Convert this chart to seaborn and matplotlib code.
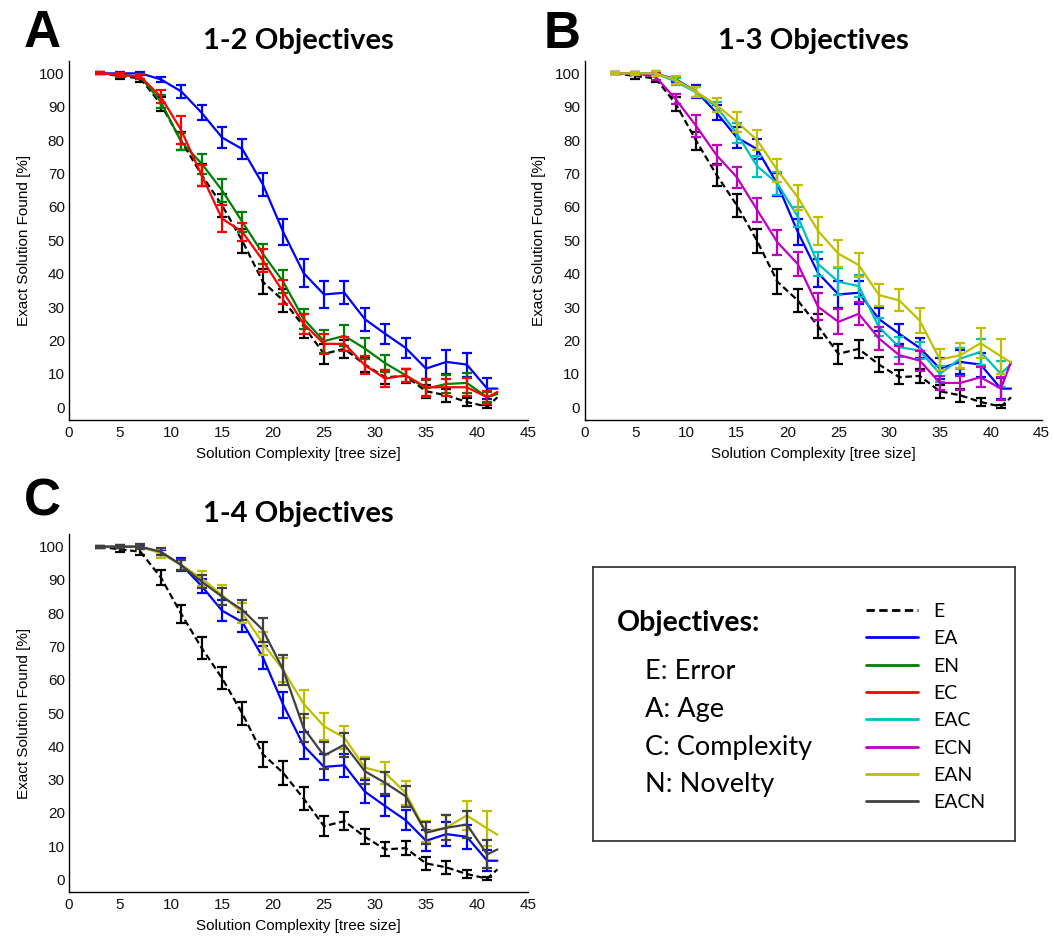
import numpy as np
import pandas as pd
import matplotlib
matplotlib.use("Agg")
import matplotlib.pyplot as plt
import seaborn as sns
from matplotlib.lines import Line2D

# ---------------- data ----------------
tree_size = [3, 5, 7, 9, 11, 13, 15, 17, 19, 21, 23, 25, 27, 29, 31, 33, 35, 37, 39, 41, 42]

E_mean = [100, 99.2, 98.5, 90.8, 79.8, 69.6, 60.5, 49.8, 37.6, 32, 24.3, 16, 17.5, 12.8, 9, 9.4, 4.8, 3.6, 1.6, 0.2, 3]
E_err = [0.3, 0.9, 1.1, 2.2, 2.7, 3.3, 3.4, 3.5, 3.7, 3.5, 3.5, 3, 2.8, 2.2, 2.1, 2.2, 2, 2, 1.1, 0.5]

EA_mean = [100, 100, 100, 98.2, 94.6, 88.2, 80.8, 77.3, 66.8, 52.5, 40.2, 33.8, 34.3, 26.4, 22, 17.8, 11.6, 13.6, 12.8, 5.6, 5.6]
EA_err = [0.3, 0.5, 0.5, 0.8, 2, 2.2, 3.2, 3, 3.5, 3.9, 4.1, 4, 3.5, 3.4, 3, 3.1, 3.2, 3.5, 3.6, 3.1]

EN_mean = [100, 99.6, 99, 91.5, 79.5, 73, 65, 55.5, 46, 37.6, 26.5, 19.8, 21.4, 17.6, 13.2, 9.6, 5.6, 7, 7.3, 3, 4]
EN_err = [0.3, 0.6, 0.8, 2, 2.5, 3, 3.5, 3, 3, 3.5, 3, 3.4, 3.1, 3.2, 2.5, 2, 2.5, 2.7, 3, 1.5]

EC_mean = [100, 99.5, 99, 93, 83, 69.5, 56.5, 52.5, 44, 34.5, 25, 19, 19, 12.6, 8.6, 9.6, 6, 6, 6, 3, 4.6]
EC_err = [0.3, 0.6, 0.8, 2, 4.1, 3.2, 4, 2.7, 3.5, 3.7, 3, 3, 2, 2.7, 2.5, 2, 2.5, 2.5, 2.7, 2]

EAC_mean = [100, 100, 100, 97.5, 94.3, 90, 82, 72.2, 67, 57.1, 42.9, 37.6, 36.3, 24, 18, 17, 10, 14.6, 16.6, 10, 13]
EAC_err = [0.3, 0.5, 0.8, 1, 1.5, 1.5, 3, 3.2, 3.5, 3, 3.5, 4, 3.2, 2.7, 3, 2.5, 2.5, 3.2, 3.9, 4]

ECN_mean = [100, 100, 99, 92.2, 84.2, 75.5, 68.9, 59.1, 49.4, 42.9, 30.1, 25.6, 28, 20.6, 15.6, 14, 7.3, 7.3, 9, 5.6, 13.6]
ECN_err = [0.3, 0.5, 1, 1.5, 3.2, 3, 3.2, 3.5, 3.7, 3.7, 4, 3.7, 3.4, 3.5, 2.7, 3, 2, 2, 3, 3.5]

EAN_mean = [100, 100, 100, 98, 94.5, 90.5, 85.5, 80, 71, 62.9, 52.8, 46, 42.6, 33.6, 32, 26, 14.3, 15.6, 19.2, 15.3, 13.4]
EAN_err = [0.3, 0.5, 0.8, 1.3, 1.5, 2.2, 3, 3, 3.5, 3.7, 4.2, 4.1, 3.5, 3.2, 3.3, 3.6, 3.2, 3.8, 4.4, 5.2]

EACN_mean = [100, 100, 100, 98.5, 94.5, 89.5, 85, 81, 75, 63, 45.5, 37.2, 40.5, 32.5, 29, 25, 14, 15.5, 16.5, 7.5, 9]
EACN_err = [0.3, 0.5, 0.8, 1, 1.5, 2, 2.5, 3, 3.5, 4.5, 4.2, 4, 3.6, 3.7, 3.3, 3.1, 3.3, 3.7, 4, 4.2]

series_names = ["E", "EA", "EN", "EC", "EAC", "ECN", "EAN", "EACN"]
panel_titles = ["1-2 Objectives", "1-3 Objectives", "1-4 Objectives"]
panel_letters = ["A", "B", "C"]
panel_series = [["E", "EA", "EN", "EC"],
                ["E", "EA", "EAC", "ECN", "EAN"],
                ["E", "EA", "EAN", "EACN"]]
x_ticks = [0, 5, 10, 15, 20, 25, 30, 35, 40, 45]
y_ticks = [0, 10, 20, 30, 40, 50, 60, 70, 80, 90, 100]
objective_lines = ["E: Error", "A: Age", "C: Complexity", "N: Novelty"]

means = {"E": E_mean, "EA": EA_mean, "EN": EN_mean, "EC": EC_mean,
         "EAC": EAC_mean, "ECN": ECN_mean, "EAN": EAN_mean, "EACN": EACN_mean}
errs = {"E": E_err, "EA": EA_err, "EN": EN_err, "EC": EC_err,
        "EAC": EAC_err, "ECN": ECN_err, "EAN": EAN_err, "EACN": EACN_err}

# ---------------- style ----------------
colors = {"E": "#000000", "EA": "#0000ff", "EN": "#008000", "EC": "#ff0000",
          "EAC": "#00bfbf", "ECN": "#bf00bf", "EAN": "#bfbf00", "EACN": "#404040"}
LW = 1.6
DASH = (0, (3, 1.6))

sns.set_style("white")
plt.rcParams['font.family'] = ['Liberation Sans', 'DejaVu Sans']
plt.rcParams['text.color'] = 'black'
plt.rcParams['axes.labelcolor'] = 'black'
plt.rcParams['xtick.color'] = 'black'
plt.rcParams['ytick.color'] = 'black'

W, H = 1054, 938
fig = plt.figure(figsize=(W / 100, H / 100), dpi=100)


def px_axes(left, top, right, bottom):
    return fig.add_axes([left / W, 1 - bottom / H, (right - left) / W, (bottom - top) / H])


def ftext(x, y, s, **kw):
    fig.text(x / W, 1 - y / H, s, **kw)


axes_px = [(69, 61, 528, 420), (584.5, 61, 1041.5, 420), (69, 534.4, 528, 892)]
title_pos = [(298, 49.3), (813, 49.3), (298, 522)]
letter_pos = [(42, 47), (562, 48), (42, 516)]

for k in range(3):
    ax = px_axes(*axes_px[k])
    for name in panel_series[k]:
        c = colors[name]
        m = means[name]
        ax.errorbar(tree_size[:-1], m[:-1], yerr=errs[name], fmt='none',
                    ecolor=c, elinewidth=LW, capsize=3.6, capthick=LW)
        df = pd.DataFrame({"x": tree_size, "y": m})
        sns.lineplot(data=df, x="x", y="y", ax=ax, color=c, lw=LW,
                     linestyle=DASH if name == "E" else "-", legend=False)
    ax.set_xlim(0, 45)
    ax.set_ylim(-3.8, 103.7)
    ax.set_xticks(x_ticks)
    ax.set_yticks(y_ticks)
    ax.tick_params(direction='in', length=3, width=0.8, labelsize=11, colors='#111111')
    ax.tick_params(axis='x', pad=4)
    ax.tick_params(axis='y', pad=3)
    for s in ['top', 'right']:
        ax.spines[s].set_visible(False)
    for s in ['left', 'bottom']:
        ax.spines[s].set_linewidth(1.0)
        ax.spines[s].set_color('#000000')
    ax.set_xlabel("Solution Complexity [tree size]", fontsize=11, labelpad=5.5)
    ax.set_ylabel("Exact Solution Found [%]", fontsize=11, labelpad=6)
    ax.set_facecolor('none')
    ftext(title_pos[k][0], title_pos[k][1], panel_titles[k], ha='center', va='baseline',
          fontsize=21, fontweight='bold', family=['Lato', 'DejaVu Sans'], color='black')
    ftext(letter_pos[k][0], letter_pos[k][1], panel_letters[k], ha='center', va='baseline',
          fontsize=37, fontweight='bold', color='black')

# ---------------- legend box ----------------
lx0, ly0, lx1, ly1 = 593, 566.5, 1015, 841
legax = px_axes(lx0, ly0, lx1, ly1)
legax.set_xticks([])
legax.set_yticks([])
for s in legax.spines.values():
    s.set_visible(True)
    s.set_linewidth(1.3)
    s.set_color('#3a3a3a')

ftext(617, 631, "Objectives:", ha='left', va='baseline', fontsize=20.5,
      fontweight='bold', family=['Lato', 'DejaVu Sans'], color='black')
for txt, yb in zip(objective_lines, [679, 716.7, 755, 792.3]):
    ftext(645, yb, txt, ha='left', va='baseline', fontsize=19.5,
          family=['Lato', 'DejaVu Sans'], color='black')

handles = [Line2D([], [], color=colors[n], lw=2.0,
                  linestyle=DASH if n == "E" else "-") for n in series_names]
leg = legax.legend(handles, series_names, loc='upper left',
                   bbox_to_anchor=((866 - lx0) / (lx1 - lx0), (ly1 - 603) / (ly1 - ly0)),
                   frameon=False, borderpad=0, borderaxespad=0, handlelength=2.67,
                   handletextpad=0.8, labelspacing=0.53,
                   prop={'family': ['Lato', 'DejaVu Sans'], 'size': 14})
for t in leg.get_texts():
    t.set_color('black')

fig.savefig("out.png", dpi=100)
